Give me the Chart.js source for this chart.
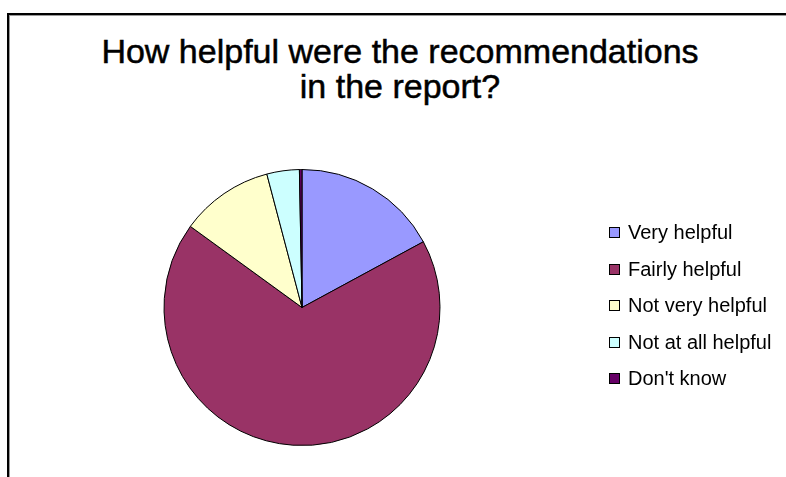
<!DOCTYPE html>
<html>
<head>
<meta charset="utf-8">
<script src="https://cdn.jsdelivr.net/npm/chart.js@4.4.1/dist/chart.umd.min.js"></script>
<style>
  html, body { margin:0; padding:0; background:#fff; }
  body { width:786px; height:477px; position:relative; overflow:hidden; font-family:"Liberation Sans", Arial, sans-serif; }
  #frame { position:absolute; left:7px; top:13px; width:800px; height:500px; border-top:2px solid #000; border-left:2px solid #000; box-shadow: inset 1px 1px 0 #999; }
  #title { position:absolute; left:0; width:800px; top:0; text-align:center; font-size:34px; color:#000; -webkit-text-stroke:0.5px #000; }
  #title div { position:absolute; left:0; width:800px; }
  #wrap { position:absolute; left:0; top:0; width:786px; height:477px; }
  #legend { position:absolute; left:609px; top:0; }
  .item { position:absolute; left:0; white-space:nowrap; font-size:20px; line-height:20px; color:#000; }
  .sw { position:absolute; left:0; top:5px; width:9px; height:9px; border:1px solid #000; }
  .lt { position:absolute; left:19px; top:0; }
</style>
</head>
<body>
<div id="frame"></div>
<div id="title"></div>
<div id="wrap"><canvas id="c" width="786" height="477"></canvas></div>
<div id="legend"></div>
<script>
const titleLines = ["How helpful were the recommendations", "in the report?"];
const categories = ["Very helpful", "Fairly helpful", "Not very helpful", "Not at all helpful", "Don't know"];
const values = [17.1, 67.9, 10.9, 3.8, 0.3];
const colors = ["#9999FF", "#993366", "#FFFFCC", "#CCFFFF", "#660066"];

// title
const t = document.getElementById('title');
const baselines = [63, 98];
titleLines.forEach((s, i) => {
  const d = document.createElement('div');
  d.textContent = s;
  d.style.top = (baselines[i] - 31) + 'px';
  d.style.lineHeight = '39px';
  t.appendChild(d);
});

// legend
const lg = document.getElementById('legend');
categories.forEach((c, i) => {
  const it = document.createElement('div');
  it.className = 'item';
  it.style.top = (232 + i * 36.5 - 10) + 'px';
  const sw = document.createElement('div');
  sw.className = 'sw';
  sw.style.background = colors[i];
  const lt = document.createElement('div');
  lt.className = 'lt';
  lt.textContent = c;
  it.appendChild(sw); it.appendChild(lt);
  lg.appendChild(it);
});

new Chart(document.getElementById('c'), {
  type: 'pie',
  data: {
    labels: categories,
    datasets: [{
      data: values,
      backgroundColor: colors,
      borderColor: '#000',
      borderWidth: 1
    }]
  },
  options: {
    responsive: false,
    animation: false,
    rotation: 0,
    layout: { padding: { left: 163, right: 345, top: 169, bottom: 31 } },
    plugins: { legend: { display: false }, title: { display: false }, tooltip: { enabled: false } }
  }
});
</script>
</body>
</html>
